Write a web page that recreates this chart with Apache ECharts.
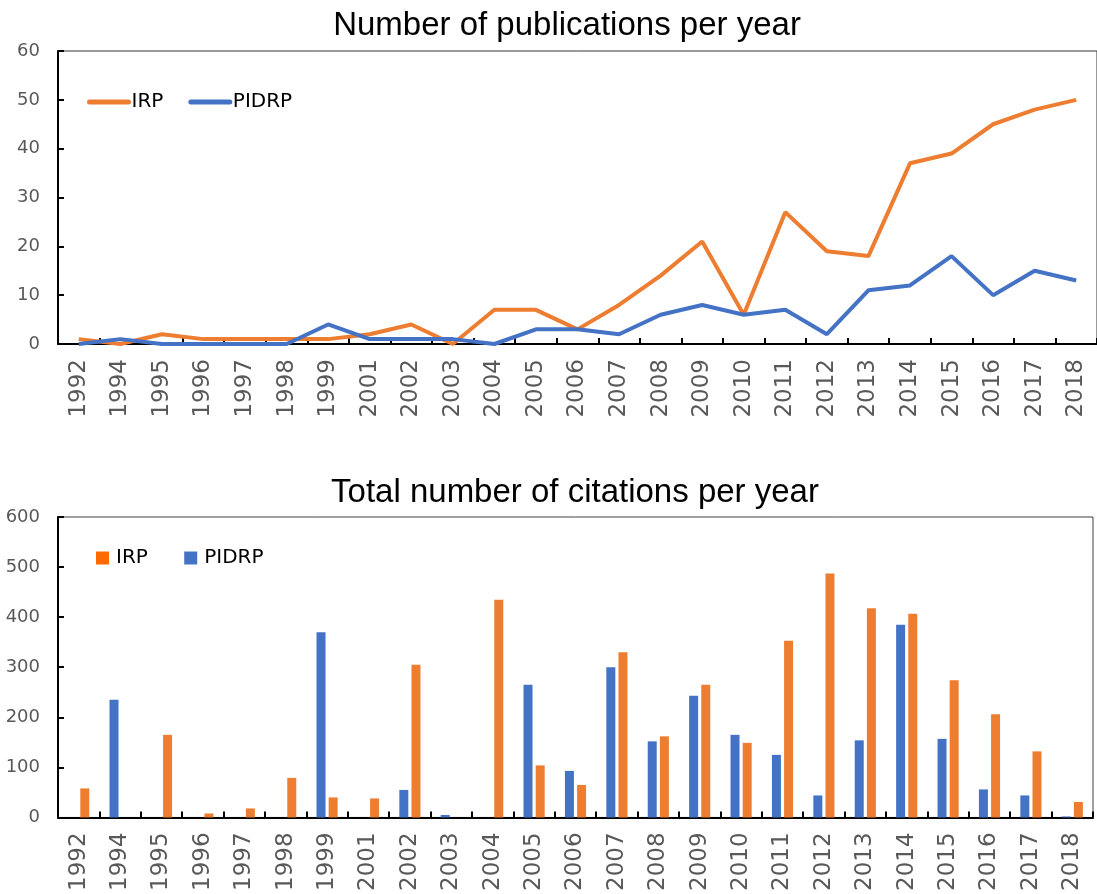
<!DOCTYPE html>
<html>
<head>
<meta charset="utf-8">
<script src="https://cdn.jsdelivr.net/npm/echarts@6/dist/echarts.min.js"></script>
<style>
  html, body { margin: 0; padding: 0; background: #fff; }
  #chart { width: 1097px; height: 894px; }
</style>
</head>
<body>
<div id="chart"></div>
<script>
// 年份（x 轴）
const years = ['1992', '1994', '1995', '1996', '1997', '1998', '1999', '2001', '2002', '2003', '2004',
  '2005', '2006', '2007', '2008', '2009', '2010', '2011', '2012', '2013', '2014', '2015', '2016', '2017', '2018']
// 每年发表数量
const pubIRP = [1, 0, 2, 1, 1, 1, 1, 2, 4, 0, 7, 7, 3, 8, 14, 21, 6, 27, 19, 18, 37, 39, 45, 48, 50]
const pubPIDRP = [0, 1, 0, 0, 0, 0, 4, 1, 1, 1, 0, 3, 3, 2, 6, 8, 6, 7, 2, 11, 12, 18, 10, 15, 13]
// 每年引用总数
const citIRP = [58, 0, 165, 8, 18, 79, 40, 38, 305, 0, 435, 104, 65, 330, 162, 265, 149, 353, 487, 418, 407, 274, 206, 132, 31]
const citPIDRP = [0, 235, 0, 0, 0, 0, 370, 0, 55, 5, 0, 265, 93, 300, 152, 243, 165, 125, 44, 154, 385, 157, 56, 44, 2]

const ORANGE = '#ED7D31'
const BLUE = '#4472C4'
const GREY = '#595959'
const TITLE_FONT = 'Liberation Sans'
const LABEL_FONT = 'DejaVu Sans'

const xAxisBase = {
  type: 'category',
  data: years,
  boundaryGap: true,
  axisLine: { lineStyle: { color: '#000', width: 2 } },
  axisTick: { show: true, inside: true, interval: 0, length: 6, lineStyle: { color: '#000', width: 2 } },
  axisLabel: { interval: 0, rotate: 90, color: GREY, fontSize: 23, fontFamily: LABEL_FONT, margin: 15 },
  splitLine: { show: false }
}

const yAxisBase = {
  type: 'value',
  axisLine: { show: true, lineStyle: { color: '#000', width: 2 } },
  axisTick: { show: true, inside: true, length: 6, lineStyle: { color: '#000', width: 2 } },
  axisLabel: { color: GREY, fontSize: 18, fontFamily: LABEL_FONT, margin: 18 },
  splitLine: { show: false }
}

const myChart = echarts.init(document.getElementById('chart'))
const option = {
  animation: false,
  textStyle: { fontFamily: LABEL_FONT },
  title: [
    { text: 'Number of publications per year', left: 562, textAlign: 'center', top: 4,
      textStyle: { color: '#000', fontSize: 33, fontWeight: 'normal', fontFamily: TITLE_FONT } },
    { text: 'Total number of citations per year', left: 570, textAlign: 'center', top: 471,
      textStyle: { color: '#000', fontSize: 33, fontWeight: 'normal', fontFamily: TITLE_FONT } }
  ],
  legend: [
    { data: [{ name: 'IRP' }, { name: 'PIDRP' }], left: 87, top: 92, padding: 0, itemWidth: 39, itemHeight: 5,
      itemGap: 25, textStyle: { color: '#000', fontSize: 20, fontFamily: LABEL_FONT, padding: [0, 0, 0, -2] },
      lineStyle: { width: 5, cap: 'round' } },
    { data: [{ name: 'IRP ', itemStyle: { color: '#FF6A00' } }, { name: 'PIDRP ' }], left: 96, top: 548, padding: 0,
      itemWidth: 13, itemHeight: 13, itemGap: 30, icon: 'rect',
      textStyle: { color: '#000', fontSize: 20, fontFamily: LABEL_FONT, padding: [0, 0, 0, 2] } }
  ],
  grid: [
    { left: 58, width: 1043, top: 51, height: 293, show: true, borderColor: '#333', borderWidth: 1 },
    { left: 58, right: 4, top: 517, height: 301, show: true, borderColor: '#404040', borderWidth: 1 }
  ],
  xAxis: [
    Object.assign({ gridIndex: 0 }, xAxisBase),
    Object.assign({ gridIndex: 1 }, xAxisBase)
  ],
  yAxis: [
    Object.assign({ gridIndex: 0, min: 0, max: 60, interval: 10 }, yAxisBase),
    Object.assign({ gridIndex: 1, min: 0, max: 600, interval: 100 }, yAxisBase)
  ],
  series: [
    { name: 'IRP', type: 'line', xAxisIndex: 0, yAxisIndex: 0, data: pubIRP,
      symbol: 'none', color: ORANGE, lineStyle: { width: 4, color: ORANGE } },
    { name: 'PIDRP', type: 'line', xAxisIndex: 0, yAxisIndex: 0, data: pubPIDRP,
      symbol: 'none', color: BLUE, lineStyle: { width: 4, color: BLUE } },
    { name: 'PIDRP ', type: 'bar', xAxisIndex: 1, yAxisIndex: 1, data: citPIDRP,
      barWidth: 9, barGap: '35%', color: BLUE, itemStyle: { color: BLUE } },
    { name: 'IRP ', type: 'bar', xAxisIndex: 1, yAxisIndex: 1, data: citIRP,
      barWidth: 9, barGap: '35%', color: ORANGE, itemStyle: { color: ORANGE } }
  ]
}
myChart.setOption(option)
</script>
</body>
</html>
